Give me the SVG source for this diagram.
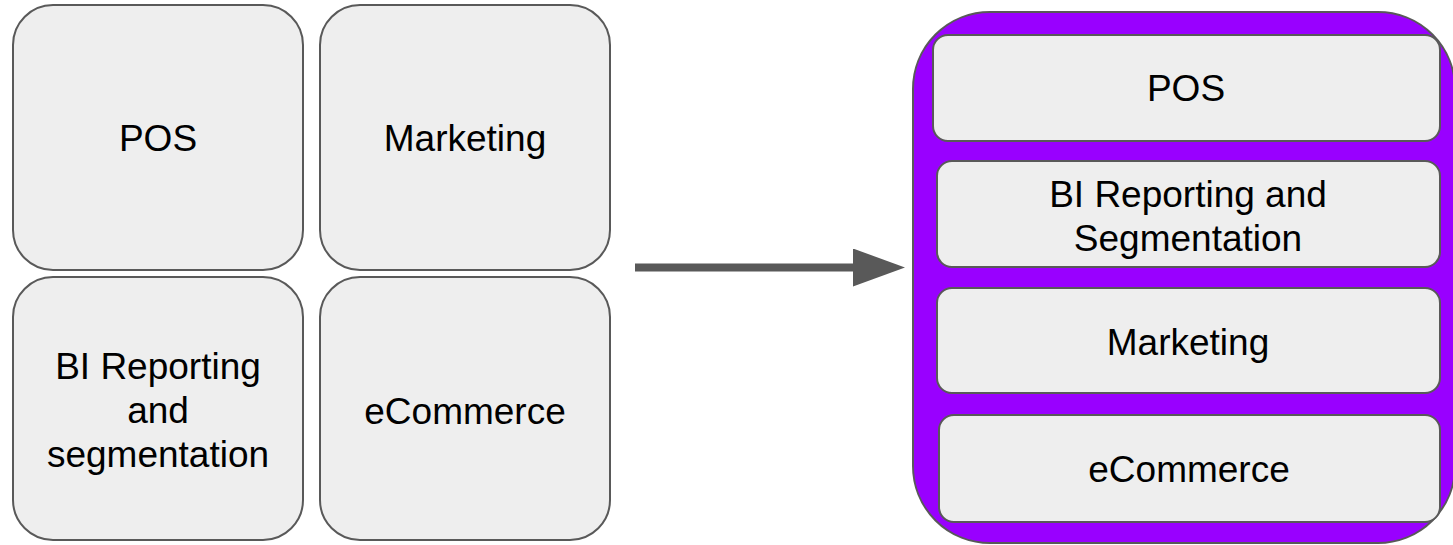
<svg xmlns="http://www.w3.org/2000/svg" width="1453" height="545" viewBox="0 0 1453 545">
<style>
.box{fill:#eeeeee;stroke:#595959;stroke-width:2}
.cont{fill:#9900ff;stroke:#595959;stroke-width:2}
.t{font-family:"Liberation Sans",Arial,sans-serif;fill:#000;text-anchor:middle;font-size:37px}
</style>
<defs>
<marker id="ah" markerWidth="6.5" markerHeight="4.75" refX="0" refY="2.375" orient="auto" markerUnits="strokeWidth">
<path d="M0,0 L6.5,2.375 L0,4.75 Z" fill="#595959"/>
</marker>
</defs>
<g id="pos-left"><rect class="box" x="13" y="5" width="290" height="265" rx="40"/><text class="t" x="158" y="151">POS</text></g>
<g id="marketing-left"><rect class="box" x="320" y="5" width="290" height="265" rx="40"/><text class="t" x="465" y="151">Marketing</text></g>
<g id="bi-left"><rect class="box" x="13" y="277" width="290" height="263" rx="40"/><text class="t" x="158" y="379">BI Reporting</text><text class="t" x="158" y="423">and</text><text class="t" x="158" y="467">segmentation</text></g>
<g id="ecommerce-left"><rect class="box" x="320" y="277" width="290" height="263" rx="40"/><text class="t" x="465" y="424">eCommerce</text></g>
<g id="connectors"><line x1="635" y1="267.5" x2="853" y2="267.5" stroke="#595959" stroke-width="8" marker-end="url(#ah)"/></g>
<g id="platform">
<rect class="cont" x="913" y="12" width="542" height="531" rx="77"/>
<g id="pos-right"><rect class="box" x="933" y="35" width="507" height="106" rx="15"/><text class="t" x="1186" y="101">POS</text></g>
<g id="bi-right"><rect class="box" x="937" y="161" width="503" height="106" rx="15"/><text class="t" x="1188" y="207">BI Reporting and</text><text class="t" x="1188" y="251">Segmentation</text></g>
<g id="marketing-right"><rect class="box" x="937" y="288" width="503" height="105" rx="15"/><text class="t" x="1188" y="355">Marketing</text></g>
<g id="ecommerce-right"><rect class="box" x="939" y="415" width="501" height="107" rx="15"/><text class="t" x="1189" y="482">eCommerce</text></g>
</g>
</svg>
